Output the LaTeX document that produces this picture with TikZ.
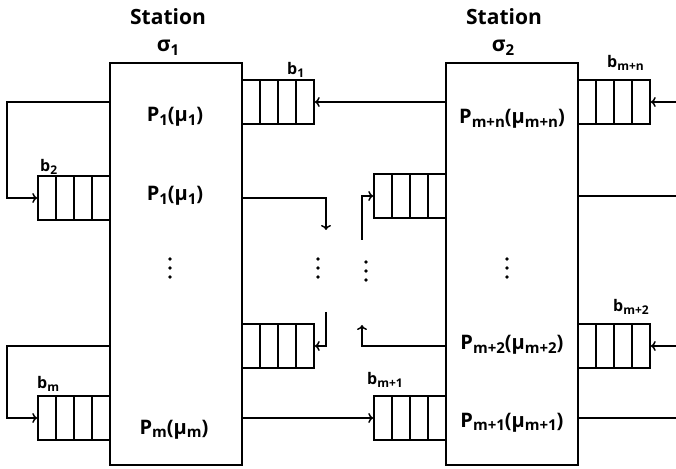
\documentclass[tikz,border=0pt]{standalone}
\usepackage{fontspec}
\setmainfont{Open Sans}
\usetikzlibrary{arrows.meta}
\newcommand{\subt}[2][15]{\raisebox{-0.3ex}{\fontsize{#1}{#1}\selectfont #2}}
\tikzset{
  station/.style={draw, line width=1.6pt, minimum width=132pt, minimum height=402pt, inner sep=0pt},
  buffer/.style={draw, line width=1.5pt, minimum width=72pt, minimum height=44pt, inner sep=0pt,
    path picture={\foreach \k in {1,2,3}{\draw[line width=1.5pt] ([xshift=\k*18pt]path picture bounding box.south west) -- ([xshift=\k*18pt]path picture bounding box.north west);}}},
  title/.style={font=\fontsize{21}{25}\selectfont\bfseries, anchor=base, inner sep=0pt},
  proc/.style={font=\fontsize{20}{24}\selectfont\bfseries, anchor=base, inner sep=0pt},
  bname/.style={font=\fontsize{16}{18}\selectfont\bfseries, anchor=base west, inner sep=0pt},
  flow/.style={line width=1.5pt},
  arr/.style={flow, -{To[length=5pt,width=10pt]}}
}

\begin{document}
\begin{tikzpicture}[x=1pt, y=1pt]
  \useasboundingbox (0,0) rectangle (676,468);

  % stations
  \node[station] (st1) at (176,204) {};
  \node[station] (st2) at (512,204) {};
  \node[title] (t1) at (168,443) {Station};
  \node[title] (s1) at (168,416) {σ\subt{1}};
  \node[title] (t2) at (504,443) {Station};
  \node[title] (s2) at (503,416) {σ\subt{2}};

  % processors
  \node[proc] (p1) at (175,346) {P\subt{1}(μ\subt{1})};
  \node[proc] (p2) at (175,267) {P\subt{1}(μ\subt{1})};
  \node[proc] (pm) at (174,34) {P\subt{m}(μ\subt{m})};
  \node[proc] (pmn) at (512,344) {P\subt{m+n}(μ\subt{m+n})};
  \node[proc] (pm2) at (512,118) {P\subt{m+2}(μ\subt{m+2})};
  \node[proc] (pm1) at (512,41) {P\subt{m+1}(μ\subt{m+1})};

  % buffers
  \node[buffer] (q1) at (278,366) {};
  \node[buffer] (q2) at (74,270) {};
  \node[buffer] (qm) at (74,50) {};
  \node[buffer] (qa) at (278,122) {};
  \node[buffer] (qb) at (410,272) {};
  \node[buffer] (qm1) at (410,50) {};
  \node[buffer] (qmn) at (614,366) {};
  \node[buffer] (qm2) at (614,122) {};

  \node[bname] (b1) at (287,393) {b\subt[12]{1}};
  \node[bname] (b2) at (40,296) {b\subt[12]{2}};
  \node[bname] (bm) at (37,79) {b\subt[12]{m}};
  \node[bname] (bm1) at (367,83) {b\subt[12]{m+1}};
  \node[bname] (bmn) at (607,400) {b\subt[12]{m+n}};
  \node[bname] (bm2) at (613,156) {b\subt[12]{m+2}};

  % free ends
  \coordinate (d1) at (326,238);
  \coordinate (d2) at (326,156);
  \coordinate (u1) at (362,228);
  \coordinate (u2) at (362,143);
  \coordinate (r1) at (676,366);
  \coordinate (r2) at (676,272);
  \coordinate (r3) at (676,122);
  \coordinate (r4) at (676,50);

  % connectors
  \draw[arr] (st2.west |- q1) -- (q1.east);
  \draw[arr] (st1.west |- q1) -- ++(-102,0) |- (q2.west);
  \draw[arr] (st1.west |- qa) -- ++(-102,0) |- (qm.west);
  \draw[arr] (st1.east |- q2) -| (d1);
  \draw[arr] (d2) |- (qa.east);
  \draw[arr] (u1) |- (qb.west);
  \draw[arr] (st2.west |- qa) -| (u2);
  \draw[arr] (st1.east |- qm1) -- (qm1.west);
  \draw[arr] (r1) -- (qmn.east);
  \draw[flow] (st2.east |- qb) -- (r2);
  \draw[arr] (r3) -- (qm2.east);
  \draw[flow] (st2.east |- qm1) -- (r4);

  % continuation dots
  \foreach \px/\py in {170/200, 318/200, 366/197, 507/200}
    \foreach \k in {-1,0,1}
      \fill (\px,\py+\k*9) circle (1.9);
\end{tikzpicture}
\end{document}
